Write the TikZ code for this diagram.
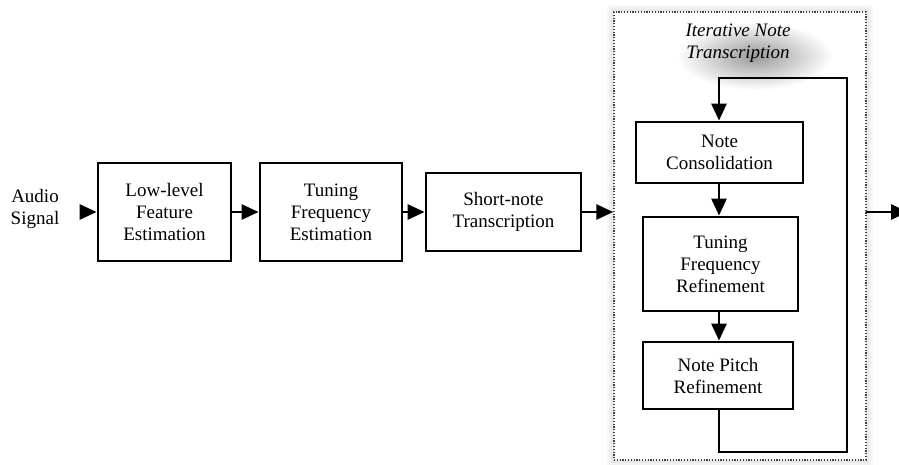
\documentclass[tikz,border=0pt]{standalone}
\usepackage{fontspec}
\setmainfont{Liberation Serif}
\usetikzlibrary{arrows.meta}
\begin{document}
\begin{tikzpicture}[x=1pt,y=-1pt,
  blk/.style={draw=black,line width=2.8pt,fill=white,align=center,inner sep=0pt,
    font=\fontsize{19}{22}\selectfont},
  arr/.style={line width=2.8pt,-{Triangle[length=17pt,width=15pt]}},
  ln/.style={line width=2.8pt}]
\clip (0,0) rectangle (899,464);
\fill[white] (0,0) rectangle (899,464);
% soft shadow of the group box
\foreach \i/\o in {7/0.025,5/0.03,3/0.035}{
  \fill[black,opacity=\o] (614-\i,12-\i) rectangle (866+\i,460+\i);}
\fill[white] (614,12) rectangle (866,460);
% shadow behind the title
\shade[inner color=black!40,outer color=white] (755,56) ellipse [x radius=78,y radius=34];
% group box
\node[draw=black!75,line width=1.5pt,dash pattern=on 1.2pt off 1.6pt,
  minimum width=252pt,minimum height=448pt,inner sep=0pt] (grp) at (740,236) {};
\node[align=center,font=\fontsize{19}{22}\selectfont\itshape] (ttl) at (738,43)
  {Iterative Note\\Transcription};
% main chain
\node[blk,minimum width=133pt,minimum height=98pt] (b1) at (164.5,212) {Low-level\\Feature\\Estimation};
\node[blk,minimum width=142pt,minimum height=98pt] (b2) at (331,212) {Tuning\\Frequency\\Estimation};
\node[blk,minimum width=155pt,minimum height=78pt] (b3) at (503.5,212) {Short-note\\Transcription};
\node[align=center,font=\fontsize{19}{22}\selectfont] (in) at (35,209) {Audio\\Signal};
\coordinate (ins) at (81,212);
\coordinate (outs) at (866,212);
\coordinate (oute) at (908,212);
% inner boxes
\node[blk,minimum width=167pt,minimum height=61pt] (nc) at (719.5,152.5) {Note\\Consolidation};
\node[blk,minimum width=155pt,minimum height=94pt] (tf) at (720.5,264) {Tuning\\Frequency\\Refinement};
\node[blk,minimum width=150pt,minimum height=67pt] (np) at (718,375.5) {Note Pitch\\Refinement};
\coordinate (l1) at (719,452);
\coordinate (l2) at (847,452);
\coordinate (l3) at (847,78);
\coordinate (l4) at (719,78);
% connectors
\draw[arr] (ins) -- (b1.west);
\draw[arr] (b1) -- (b2);
\draw[arr] (b2) -- (b3);
\draw[arr] (b3.east) -- (b3.east -| grp.west);
\draw[arr] (outs) -- (oute);
\draw[arr] (nc.south -| l1) -- (tf.north -| l1);
\draw[arr] (tf.south -| l1) -- (np.north -| l1);
\draw[arr] (np.south -| l1) -- (l1) -- (l2) -- (l3) -- (l4) -- (nc.north -| l4);
\end{tikzpicture}
\end{document}
